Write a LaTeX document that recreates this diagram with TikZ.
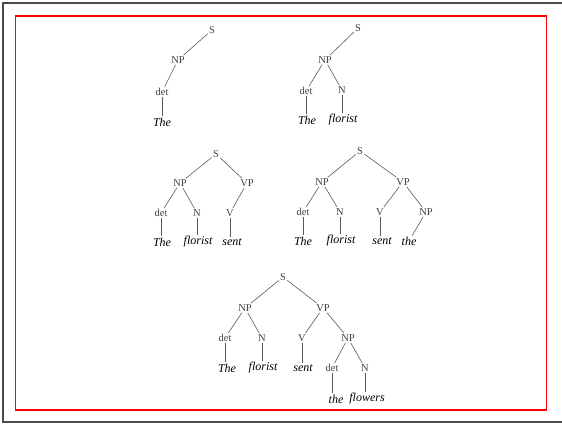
\documentclass[tikz,border=0pt]{standalone}
\usepackage{fontspec}
\setmainfont{Liberation Serif}
\begin{document}
\begin{tikzpicture}[x=1pt,y=-1pt,
  cat/.style={inner sep=1.2pt,font=\fontsize{10.5}{12}\selectfont,text=black!75},
  word/.style={inner sep=1.2pt,font=\fontsize{12}{14}\selectfont\itshape,text=black},
  edge/.style={draw=black!65,line width=0.6pt},
  frame/.style={draw=black!70,line width=1.2pt},
  redbox/.style={draw=red,line width=1.2pt}]
\useasboundingbox (0,0) rectangle (562,424);
\draw[frame] (562,3) -- (3,3) -- (3,422) -- (562,422);
\draw[redbox] (15.5,16) rectangle (546.5,410);
% tree 1
\node[cat] (aS) at (212,30) {S};
\node[cat] (aNP) at (178,60) {NP};
\node[cat] (adet) at (162,92) {det};
\node[word] (aThe) at (162,122) {The};
\draw[edge] (aS) -- (aNP);
\draw[edge] (aNP) -- (adet);
\draw[edge] (adet) -- (aThe);
% tree 2
\node[cat] (bS) at (358,28) {S};
\node[cat] (bNP) at (325,60) {NP};
\node[cat] (bdet) at (306,91) {det};
\node[cat] (bN) at (342,90) {N};
\node[word] (bThe) at (307,120) {The};
\node[word] (bflorist) at (343,120) {florist};
\draw[edge] (bS) -- (bNP);
\draw[edge] (bNP) -- (bdet);
\draw[edge] (bNP) -- (bN);
\draw[edge] (bdet) -- (bdet |- bThe.north);
\draw[edge] (bN) -- (bN |- bflorist.north);
% tree 3
\node[cat] (cS) at (216,154) {S};
\node[cat] (cNP) at (180,183) {NP};
\node[cat] (cVP) at (247,183) {VP};
\node[cat] (cdet) at (161,213) {det};
\node[cat] (cN) at (197,213) {N};
\node[cat] (cV) at (230,213) {V};
\node[word] (cThe) at (162,242) {The};
\node[word] (cflorist) at (198,242) {florist};
\node[word] (csent) at (232,242) {sent};
\draw[edge] (cS) -- (cNP);
\draw[edge] (cS) -- (cVP);
\draw[edge] (cNP) -- (cdet);
\draw[edge] (cNP) -- (cN);
\draw[edge] (cVP) -- (cV);
\draw[edge] (cdet) -- (cdet |- cThe.north);
\draw[edge] (cN) -- (cN |- cflorist.north);
\draw[edge] (cV) -- (cV |- csent.north);
% tree 4
\node[cat] (dS) at (360,151) {S};
\node[cat] (dNP) at (322,182) {NP};
\node[cat] (dVP) at (403,182) {VP};
\node[cat] (ddet) at (303,212) {det};
\node[cat] (dN) at (340,212) {N};
\node[cat] (dV) at (380,212) {V};
\node[cat] (dNPb) at (426,212) {NP};
\node[word] (dThe) at (303,241) {The};
\node[word] (dflorist) at (341,241) {florist};
\node[word] (dsent) at (382,241) {sent};
\node[word] (dthe) at (409,241) {the};
\draw[edge] (dS) -- (dNP);
\draw[edge] (dS) -- (dVP);
\draw[edge] (dNP) -- (ddet);
\draw[edge] (dNP) -- (dN);
\draw[edge] (dVP) -- (dV);
\draw[edge] (dVP) -- (dNPb);
\draw[edge] (ddet) -- (ddet |- dThe.north);
\draw[edge] (dN) -- (dN |- dflorist.north);
\draw[edge] (dV) -- (dV |- dsent.north);
\draw[edge] (dNPb) -- (dthe);
% tree 5
\node[cat] (eS) at (283,277) {S};
\node[cat] (eNP) at (245,308) {NP};
\node[cat] (eVP) at (323,308) {VP};
\node[cat] (edet) at (225,338) {det};
\node[cat] (eN) at (262,338) {N};
\node[cat] (eV) at (302,338) {V};
\node[cat] (eNPb) at (348,338) {NP};
\node[word] (eThe) at (227,368) {The};
\node[word] (eflorist) at (263,368) {florist};
\node[word] (esent) at (303,368) {sent};
\node[cat] (edetb) at (332,368) {det};
\node[cat] (eNb) at (365,368) {N};
\node[word] (ethe) at (336,399) {the};
\node[word] (eflowers) at (367,399) {flowers};
\draw[edge] (eS) -- (eNP);
\draw[edge] (eS) -- (eVP);
\draw[edge] (eNP) -- (edet);
\draw[edge] (eNP) -- (eN);
\draw[edge] (eVP) -- (eV);
\draw[edge] (eVP) -- (eNPb);
\draw[edge] (edet) -- (edet |- eThe.north);
\draw[edge] (eN) -- (eN |- eflorist.north);
\draw[edge] (eV) -- (eV |- esent.north);
\draw[edge] (eNPb) -- (edetb);
\draw[edge] (eNPb) -- (eNb);
\draw[edge] (edetb) -- (edetb |- ethe.north);
\draw[edge] (eNb) -- (eNb |- eflowers.north);
\end{tikzpicture}
\end{document}
